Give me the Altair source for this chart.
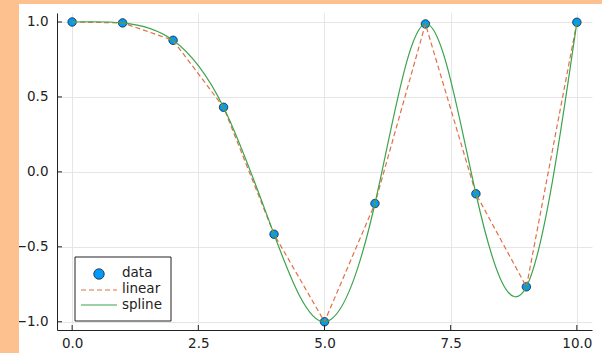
import altair as alt
import pandas as pd

# ---- data ----
xs = [0, 1, 2, 3, 4, 5, 6, 7, 8, 9, 10]
ys = [1.0, 0.994, 0.878, 0.431, -0.416, -1.0, -0.211, 0.987, -0.146, -0.767, 0.998]
x_ticks = [0, 2.5, 5, 7.5, 10]
y_ticks = [-1.0, -0.5, 0.0, 0.5, 1.0]
legend_labels = ["data", "linear", "spline"]

BLUE = "#009AFA"
ORANGE = "#E26F46"
GREEN = "#3DA44D"
BG = "#FCC18F"
FONT = "DejaVu Sans"
FS = 13.5

W, H = 535, 317
PAD_L, PAD_T = 57, 13

df = pd.DataFrame({"x": xs, "y": ys})
one = pd.DataFrame({"a": [0]})
xt = pd.DataFrame({"t": x_ticks})
yt = pd.DataFrame({"t": y_ticks})

xscale = alt.Scale(domain=[-0.3, 10.3], nice=False, zero=False)
yscale = alt.Scale(domain=[-1.055, 1.06], nice=False, zero=False)

xaxis = alt.Axis(values=x_ticks, format=".1f", grid=True, gridColor="#E6E6E6",
                 domain=True, domainColor="#222222", domainWidth=1, ticks=False,
                 labelPadding=6, labelFont=FONT, labelFontSize=FS, labelColor="#222222",
                 title=None)
yaxis = alt.Axis(values=y_ticks, format=".1f", grid=True, gridColor="#E6E6E6",
                 domain=True, domainColor="#222222", domainWidth=1, ticks=False,
                 labelPadding=9, labelFont=FONT, labelFontSize=FS, labelColor="#222222",
                 title=None)

# orange strips outside the white figure area
strip_left = alt.Chart(one).mark_rect(color=BG, clip=False).encode(
    x=alt.value(-PAD_L), x2=alt.value(19 - PAD_L),
    y=alt.value(-PAD_T), y2=alt.value(353 - PAD_T))
strip_top = alt.Chart(one).mark_rect(color=BG, clip=False).encode(
    x=alt.value(-PAD_L), x2=alt.value(602 - PAD_L),
    y=alt.value(-PAD_T), y2=alt.value(4 - PAD_T))

points = alt.Chart(df).mark_circle(size=72, color=BLUE, opacity=1,
                                   stroke="#222222", strokeWidth=0.8).encode(
    x=alt.X("x:Q", scale=xscale, axis=xaxis),
    y=alt.Y("y:Q", scale=yscale, axis=yaxis))

linear = alt.Chart(df).mark_line(color=ORANGE, strokeDash=[5, 3], strokeWidth=1.2).encode(
    x=alt.X("x:Q", scale=xscale), y=alt.Y("y:Q", scale=yscale))

spline = alt.Chart(df).mark_line(color=GREEN, interpolate="natural", strokeWidth=1.2).encode(
    x=alt.X("x:Q", scale=xscale), y=alt.Y("y:Q", scale=yscale))

# inward ticks
xticks_m = alt.Chart(xt).mark_rule(color="#222222", strokeWidth=1).encode(
    x=alt.X("t:Q", scale=xscale), y=alt.value(H), y2=alt.value(H - 5))
yticks_m = alt.Chart(yt).mark_rule(color="#222222", strokeWidth=1).encode(
    y=alt.Y("t:Q", scale=yscale), x=alt.value(0), x2=alt.value(5))

# legend
lg_box = alt.Chart(one).mark_rect(fill="white", stroke="#222222", strokeWidth=1).encode(
    x=alt.value(18), x2=alt.value(114), y=alt.value(244), y2=alt.value(308))
lg_pt = alt.Chart(one).mark_circle(size=110, color=BLUE, opacity=1,
                                   stroke="#222222", strokeWidth=0.8).encode(
    x=alt.value(42), y=alt.value(261))
lg_lin = alt.Chart(one).mark_rule(color=ORANGE, strokeDash=[5, 3], strokeWidth=1.2).encode(
    x=alt.value(24), x2=alt.value(60), y=alt.value(277))
lg_spl = alt.Chart(one).mark_rule(color=GREEN, strokeWidth=1.2).encode(
    x=alt.value(24), x2=alt.value(60), y=alt.value(292))
lg_texts = []
for lab, yy in zip(legend_labels, [260, 276, 292]):
    lg_texts.append(alt.Chart(one).mark_text(text=lab, align="left", baseline="middle",
                                             font=FONT, fontSize=FS, color="#222222").encode(
        x=alt.value(65), y=alt.value(yy)))

chart = alt.layer(strip_left, strip_top, points, linear, spline, xticks_m, yticks_m,
                  lg_box, lg_pt, lg_lin, lg_spl, *lg_texts).properties(
    width=W, height=H,
    autosize=alt.AutoSizeParams(type="none"),
    padding={"left": PAD_L, "top": PAD_T, "right": 602 - PAD_L - W, "bottom": 353 - PAD_T - H},
    background="white",
).configure_view(stroke=None)

chart.save("out.html", embed_options={"renderer": "svg", "actions": False})
